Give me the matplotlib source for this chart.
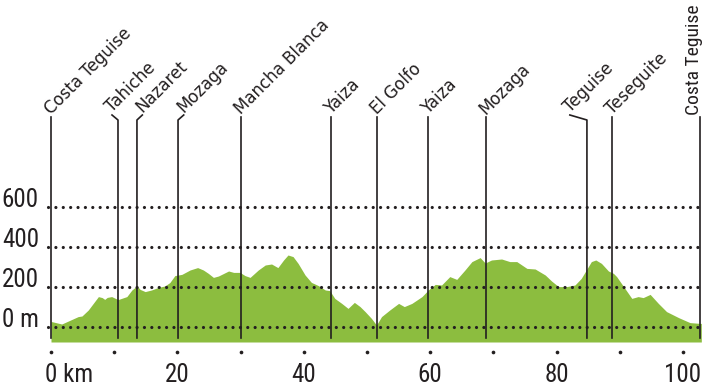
import matplotlib
matplotlib.use('Agg')
import matplotlib.pyplot as plt
import numpy as np

# elevation profile (km, m)
profile_km = [0.1, 1.7, 4.3, 4.9, 5.9, 7.5, 8.1, 8.5, 8.9, 9.6, 10.4, 10.7, 12.0, 12.8,
              13.6, 14.1, 14.9, 15.9, 17.0, 18.0, 18.8, 19.6, 20.7, 22.0, 23.2, 24.1,
              24.9, 25.7, 26.5, 28.1, 28.9, 29.9, 30.7, 31.5, 32.8, 33.9, 34.9, 35.9,
              36.8, 37.5, 38.3, 39.1, 40.2, 41.2, 42.3, 43.4, 44.1, 44.9, 46.0, 47.0,
              48.0, 48.9, 49.7, 50.7, 51.5, 52.3, 53.6, 55.0, 55.9, 57.1, 58.7, 59.7,
              60.8, 61.8, 63.1, 64.2, 65.5, 66.6, 67.9, 68.7, 69.7, 71.3, 72.6, 73.7,
              75.3, 76.6, 78.2, 79.2, 80.3, 81.6, 82.9, 83.9, 84.7, 85.5, 86.2, 87.1,
              88.2, 89.0, 89.5, 90.8, 91.9, 92.9, 93.7, 94.8, 96.1, 97.4, 99.3, 101.1,
              102.7]
profile_m = [27, 15, 52, 55, 85, 152, 147, 138, 148, 152, 140, 138, 152, 185,
             205, 188, 177, 185, 198, 205, 222, 257, 263, 285, 297, 285,
             268, 248, 255, 280, 273, 273, 257, 248, 285, 310, 315, 297,
             335, 360, 352, 318, 260, 223, 207, 185, 182, 143, 118, 93,
             123, 102, 77, 43, 10, 52, 85, 118, 102, 118, 152, 185,
             213, 210, 252, 238, 285, 327, 347, 320, 335, 340, 327, 327,
             293, 290, 260, 230, 202, 202, 210, 243, 285, 327, 335, 318,
             280, 268, 252, 193, 143, 152, 147, 163, 118, 77, 47, 22,
             18]

places = ['Costa Teguise', 'Tahiche', 'Nazaret', 'Mozaga', 'Mancha Blanca', 'Yaiza',
          'El Golfo', 'Yaiza', 'Mozaga', 'Teguise', 'Teseguite', 'Costa Teguise']
place_km = [0, 10.6, 13.6, 20.1, 30.0, 44.3, 51.6, 59.7, 68.8, 84.8, 88.8, 102.7]

y_ticks = [0, 200, 400, 600]
y_labels = ['0 m', '200', '400', '600']
x_ticks = [0, 20, 40, 60, 80, 100]
x_labels = ['0 km', '20', '40', '60', '80', '100']
x_dots = [0, 10, 20, 30, 40, 50, 60, 70, 80, 90, 100]

GREEN = '#8cbd3f'
INK = '#231f20'
FONT = ['Roboto Condensed', 'DejaVu Sans']
# slanted names: this list rotated fine in the first run
ROT_FONT = ['Liberation Sans Narrow', 'DejaVu Sans']

fig = plt.figure(figsize=(7.12, 3.91), dpi=100)
ax = fig.add_axes([0, 0, 1, 1])
ax.set_xlim(-8.07, 104.59)
ax.set_ylim(-320, 1635)
ax.axis('off')

# profile
xs = [0] + profile_km + [102.9]
ys = [profile_m[0]] + profile_m + [profile_m[-1]]
ax.fill_between(xs, ys, -75, color=GREEN, lw=0, zorder=1)

# dotted grid
for v in y_ticks:
    ax.plot([-0.5, 103.3], [v, v], color=INK, lw=2.3,
            linestyle=(0, (0.01, 2.3)), dash_capstyle='round', zorder=2)

# y labels
for v, lab in zip(y_ticks, y_labels):
    ax.text(-1.9, v, lab, ha='right', va='baseline', fontsize=18,
            family=FONT, color=INK)

# x axis dots and labels
ax.scatter(x_dots, [-125] * len(x_dots), s=7, color=INK, lw=0, zorder=3)
for v, lab in zip(x_ticks, x_labels):
    if v == 0:
        ax.text(-0.95, -273, lab, ha='left', va='baseline', fontsize=18,
                family=FONT, color=INK)
    else:
        ax.text(v, -273, lab, ha='center', va='baseline', fontsize=18,
                family=FONT, color=INK)

# place markers: label shift (km) for the bent leader lines
label_shift = [0, -0.95, 0.85, 0.9, 0, 0, 0, 0, 0, -2.7, 0, 0]
for i, (name, km, sh) in enumerate(zip(places, place_km, label_shift)):
    if sh == 0:
        ax.plot([km, km], [1050, -55], color=INK, lw=1.2, zorder=4)
        top = 1050
    else:
        ax.plot([km + sh, km, km], [1060, 1035, -55], color=INK, lw=1.2, zorder=4)
        top = 1060
    if i == len(places) - 1:
        ax.text(km - 0.2, top + 10, name, rotation=90, rotation_mode='anchor',
                ha='left', va='baseline', fontsize=14, family=FONT, color=INK)
    else:
        ax.text(km + sh, top + 10, name, rotation=45, rotation_mode='anchor',
                ha='left', va='baseline', fontsize=12, family=ROT_FONT, color=INK)

fig.savefig('out.png', dpi=100)
